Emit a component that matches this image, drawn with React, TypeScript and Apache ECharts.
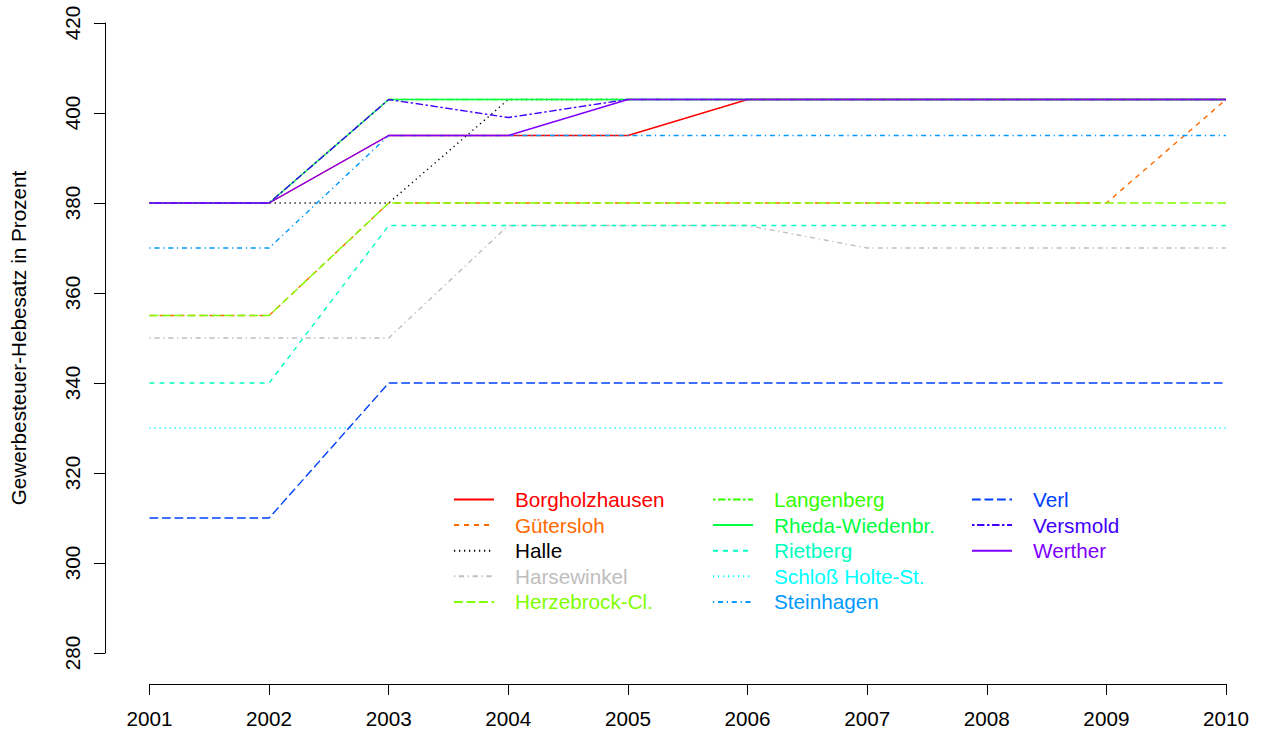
import React, { useEffect, useRef } from "react";
import * as echarts from "echarts";

const years = ["2001", "2002", "2003", "2004", "2005", "2006", "2007", "2008", "2009", "2010"];

const borgholzhausen = [380, 380, 395, 395, 395, 403, 403, 403, 403, 403];
const guetersloh = [355, 355, 380, 380, 380, 380, 380, 380, 380, 403];
const halle = [380, 380, 380, 403, 403, 403, 403, 403, 403, 403];
const harsewinkel = [350, 350, 350, 375, 375, 375, 370, 370, 370, 370];
const herzebrock = [355, 355, 380, 380, 380, 380, 380, 380, 380, 380];
const langenberg = [380, 380, 403, 403, 403, 403, 403, 403, 403, 403];
const rheda = [380, 380, 403, 403, 403, 403, 403, 403, 403, 403];
const rietberg = [340, 340, 375, 375, 375, 375, 375, 375, 375, 375];
const schlossHolte = [330, 330, 330, 330, 330, 330, 330, 330, 330, 330];
const steinhagen = [370, 370, 395, 395, 395, 395, 395, 395, 395, 395];
const verl = [310, 310, 340, 340, 340, 340, 340, 340, 340, 340];
const versmold = [380, 380, 403, 399, 403, 403, 403, 403, 403, 403];
const werther = [380, 380, 395, 395, 403, 403, 403, 403, 403, 403];

const names = [
  "Borgholzhausen", "Gütersloh", "Halle", "Harsewinkel", "Herzebrock-Cl.",
  "Langenberg", "Rheda-Wiedenbr.", "Rietberg", "Schloß Holte-St.", "Steinhagen",
  "Verl", "Versmold", "Werther",
];
const values = [
  borgholzhausen, guetersloh, halle, harsewinkel, herzebrock,
  langenberg, rheda, rietberg, schlossHolte, steinhagen,
  verl, versmold, werther,
];
const colors = [
  "#FF0000", "#FF6A00", "#000000", "#BEBEBE", "#80FF00",
  "#33FF00", "#00FF40", "#00FFBF", "#00FFFF", "#0099FF",
  "#0040FF", "#4000FF", "#8000FF",
];

const s = 1.25;
const dashSolid: any = "solid";
const dashDashed = [4 * s, 4 * s];
const dashDotted = [1 * s, 3 * s];
const dashDotDash = [1 * s, 3 * s, 4 * s, 3 * s];
const dashLong = [7 * s, 3 * s];
const dashTwo = [2 * s, 2 * s, 6 * s, 2 * s];
const ltys = [dashSolid, dashDashed, dashDotted, dashDotDash, dashLong, dashTwo];

const FONT = "'Liberation Sans', Arial, Helvetica, sans-serif";
const FS = 20.7;

export default function App() {
  const ref = useRef<HTMLDivElement>(null);
  useEffect(() => {
    if (!ref.current) return;
    const chart = echarts.init(ref.current, null, { renderer: "svg" });
    const series = names.map((n, i) => ({
      name: n,
      type: "line",
      data: values[i],
      symbol: "none",
      showSymbol: false,
      lineStyle: { color: colors[i], width: 1.4, type: ltys[i % 6] },
      itemStyle: { color: colors[i] },
      emphasis: { disabled: true },
    }));
    const mkLegend = (from: number, to: number, left: number) => ({
      left,
      top: 489,
      padding: 0,
      orient: "vertical",
      itemWidth: 40,
      itemHeight: 14,
      itemGap: 4.6,
      selectedMode: false,
      itemStyle: { opacity: 0 },
      textStyle: { fontSize: FS, fontFamily: FONT, lineHeight: 20, padding: [0, 0, 0, 16] },
      data: names.slice(from, to).map((n, k) => ({
        name: n,
        textStyle: { color: colors[from + k] },
      })),
    });
    chart.setOption({
      animation: false,
      backgroundColor: "#ffffff",
      textStyle: { fontFamily: FONT },
      grid: { left: 148, right: 41, top: 23, bottom: 85 },
      legend: [mkLegend(0, 5, 453), mkLegend(5, 10, 712), mkLegend(10, 13, 971)],
      xAxis: {
        type: "category",
        data: years,
        boundaryGap: false,
        offset: 31,
        axisLine: { show: true, lineStyle: { color: "#000", width: 1 } },
        axisTick: { show: true, length: 11, alignWithLabel: true, lineStyle: { color: "#000" } },
        axisLabel: { fontSize: FS, color: "#000", margin: 24, fontFamily: FONT },
        splitLine: { show: false },
      },
      yAxis: {
        type: "value",
        min: 280,
        max: 420,
        interval: 20,
        offset: 44.5,
        name: "Gewerbesteuer-Hebesatz in Prozent",
        nameLocation: "middle",
        nameRotate: 90,
        nameGap: 76,
        nameTextStyle: { fontSize: FS, color: "#000", fontFamily: FONT },
        axisLine: { show: true, lineStyle: { color: "#000", width: 1 } },
        axisTick: { show: true, length: 11, lineStyle: { color: "#000" } },
        axisLabel: { fontSize: FS, color: "#000", rotate: 90, margin: 22, fontFamily: FONT },
        splitLine: { show: false },
      },
      series,
    });
    return () => chart.dispose();
  }, []);
  return (
    <div
      ref={ref}
      style={{ position: "absolute", left: 0, top: 0, width: 1267, height: 738 }}
    />
  );
}
